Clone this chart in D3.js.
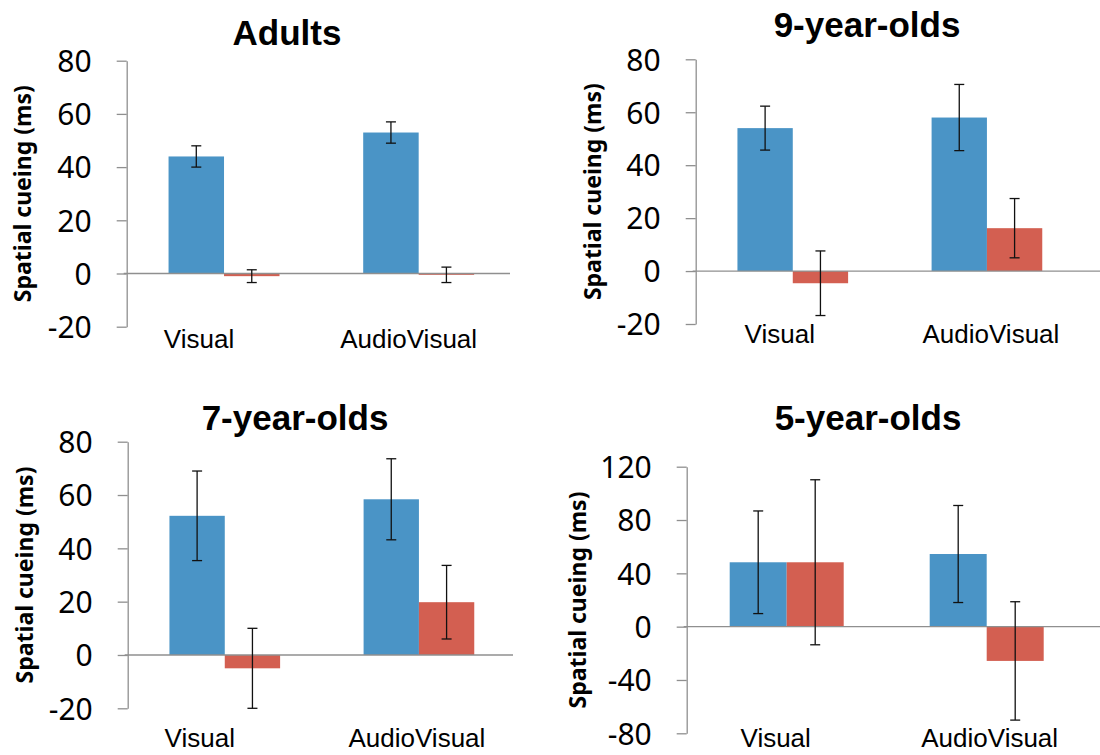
<!DOCTYPE html>
<html>
<head>
<meta charset="utf-8">
<script src="https://cdn.jsdelivr.net/npm/d3@7"></script>
<style>
  body { margin: 0; background: #fff; }
  svg { display: block; }
</style>
</head>
<body>
<div id="app"></div>
<script>
// data
const groups = ['Adults', '9-year-olds', '7-year-olds', '5-year-olds'];
const conditions = ['Visual', 'AudioVisual'];
const series = ['blue', 'red'];
// per group: [Visual, AudioVisual]
const blueMeans = [[44, 53], [54, 58], [52.2, 58.4], [48.3, 54.5]];
const blueErrors = [[4, 4], [8.3, 12.5], [16.8, 15.2], [38.5, 36.4]];
const redMeans = [[-1, -0.5], [-4.6, 16.2], [-5, 19.8], [48.3, -25.7]];
const redErrors = [[2.4, 2.9], [12.2, 11.2], [15, 13.8], [61.9, 44.4]];
const yTicks = [
    [-20, 0, 20, 40, 60, 80],
    [-20, 0, 20, 40, 60, 80],
    [-20, 0, 20, 40, 60, 80],
    [-80, -40, 0, 40, 80, 120]
];

const width = 1100, height = 755;
const colors = { blue: '#4a94c6', red: '#d35f51' };

// panel placement
const panels = [
    { ax: 126.7, top: 60.7, bottom: 326.7, right: 516, zeroEnd: 510, titleX: 287, titleY: 45, ylabX: 23, catY: 348, catDx: [-25, -10] },
    { ax: 695.7, top: 59.3, bottom: 324, right: 1084, zeroEnd: 1100, titleX: 867, titleY: 37, ylabX: 593, catY: 343, catDx: [-13, 4] },
    { ax: 127.7, top: 441.7, bottom: 708.3, right: 516, zeroEnd: 513, titleX: 295, titleY: 430, ylabX: 25, catY: 747, catDx: [-25, -2] },
    { ax: 686.7, top: 466.7, bottom: 733.3, right: 1086.7, zeroEnd: 1100, titleX: 868, titleY: 430, ylabX: 578, catY: 747, catDx: [-11, 3] }
];

let svg = d3.select('#app').append('svg').attr('width', width).attr('height', height);

groups.forEach(function (name, gi) {
    const p = panels[gi];
    const ticks = yTicks[gi];
    const g = svg.append('g');

    const y = d3.scaleLinear().domain(d3.extent(ticks)).range([p.bottom, p.top]);
    const x0 = d3.scaleBand().domain(conditions).range([p.ax, p.right])
        .paddingInner(0.43).paddingOuter(0.215);
    const x1 = d3.scaleBand().domain(series).range([0, x0.bandwidth()]);

    const rows = [];
    conditions.forEach(function (c, ci) {
        rows.push({ cond: c, s: 'blue', v: blueMeans[gi][ci], e: blueErrors[gi][ci] });
        rows.push({ cond: c, s: 'red', v: redMeans[gi][ci], e: redErrors[gi][ci] });
    });

    // y axis
    const axis = g.append('g')
        .attr('transform', `translate(${p.ax},0)`)
        .call(d3.axisLeft(y).tickValues(ticks).tickFormat(d => String(d))
            .tickSize(10).tickSizeOuter(0).tickPadding(25));
    axis.select('.domain').attr('stroke', '#8f8f8f').attr('stroke-width', 1.3);
    axis.selectAll('.tick line').attr('stroke', '#8f8f8f').attr('stroke-width', 1.3);
    axis.selectAll('.tick text')
        .attr('fill', '#000')
        .attr('dy', '0.36em')
        .style('font-family', '"Noto Sans", sans-serif')
        .style('font-size', '30px');

    // bars
    g.selectAll('.bar').data(rows)
        .enter().append('rect').classed('bar', true)
        .attr('x', d => x0(d.cond) + x1(d.s))
        .attr('width', x1.bandwidth())
        .attr('y', d => y(Math.max(0, d.v)))
        .attr('height', d => Math.abs(y(d.v) - y(0)))
        .attr('fill', d => colors[d.s]);

    // zero line
    g.append('line')
        .attr('x1', p.ax - 3).attr('x2', p.zeroEnd)
        .attr('y1', y(0)).attr('y2', y(0))
        .attr('stroke', '#8f8f8f').attr('stroke-width', 1.3);

    // error bars
    const eb = g.selectAll('.err').data(rows)
        .enter().append('g').classed('err', true)
        .attr('transform', d => `translate(${x0(d.cond) + x1(d.s) + x1.bandwidth() / 2},0)`);
    eb.append('line')
        .attr('y1', d => y(d.v + d.e)).attr('y2', d => y(d.v - d.e))
        .attr('stroke', '#111').attr('stroke-width', 1.3);
    eb.append('line')
        .attr('x1', -5).attr('x2', 5)
        .attr('y1', d => y(d.v + d.e)).attr('y2', d => y(d.v + d.e))
        .attr('stroke', '#111').attr('stroke-width', 1.3);
    eb.append('line')
        .attr('x1', -5).attr('x2', 5)
        .attr('y1', d => y(d.v - d.e)).attr('y2', d => y(d.v - d.e))
        .attr('stroke', '#111').attr('stroke-width', 1.3);

    // category labels
    g.selectAll('.cat').data(conditions)
        .enter().append('text').classed('cat', true)
        .attr('x', (d, i) => x0(d) + x0.bandwidth() / 2 + p.catDx[i])
        .attr('y', p.catY)
        .attr('text-anchor', 'middle')
        .style('font-family', '"Liberation Sans", Arial, sans-serif')
        .style('font-size', '26px')
        .text(d => d);

    // title
    g.append('text')
        .attr('x', p.titleX).attr('y', p.titleY)
        .attr('text-anchor', 'middle')
        .style('font-family', '"Liberation Sans", Arial, sans-serif')
        .style('font-weight', 'bold')
        .style('font-size', '35px')
        .text(name);

    // y title
    g.append('text')
        .attr('transform', `translate(${p.ylabX},${(p.top + p.bottom) / 2}) rotate(-90)`)
        .attr('text-anchor', 'middle')
        .attr('dy', '0.35em')
        .style('font-family', '"Noto Sans", sans-serif')
        .style('font-weight', 'bold')
        .style('font-size', '23px')
        .text('Spatial cueing (ms)');
});
</script>
</body>
</html>
